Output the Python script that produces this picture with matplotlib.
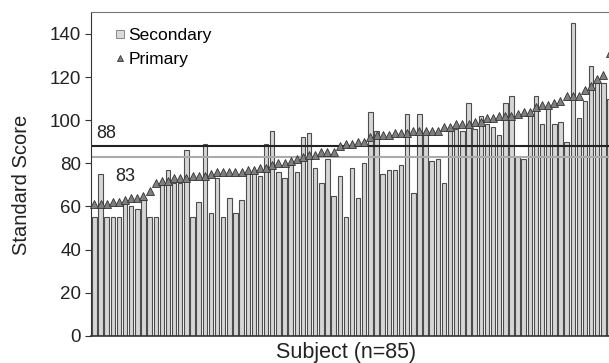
import matplotlib
matplotlib.use("Agg")
import matplotlib.pyplot as plt
from matplotlib.lines import Line2D
import numpy as np

plt.rcParams['font.family'] = ['Liberation Sans', 'DejaVu Sans']

# scores per subject, sorted by primary score
primary = [61, 61, 61, 62, 62, 63, 64, 64, 65, 67,
           71, 72, 72, 73, 73, 73, 74, 74, 74, 75,
           76, 76, 76, 76, 76, 77, 77, 78, 78, 79,
           80, 80, 81, 82, 83, 84, 84, 85, 85, 85,
           88, 89, 89, 90, 90, 92, 93, 93, 93, 94,
           94, 94, 95, 95, 95, 95, 95, 97, 97, 98,
           98, 98, 99, 99, 101, 101, 102, 102, 102, 103,
           104, 104, 106, 107, 107, 108, 109, 111, 111, 111,
           114, 116, 119, 121, 131]
secondary = [55, 75, 55, 55, 55, 62, 60, 59, 63, 55,
             55, 70, 77, 71, 71, 86, 55, 62, 89, 57,
             73, 55, 64, 57, 63, 76, 76, 74, 89, 95,
             76, 73, 79, 76, 92, 94, 78, 71, 82, 65,
             74, 55, 78, 64, 80, 104, 95, 75, 77, 77,
             79, 103, 66, 103, 94, 81, 82, 71, 95, 96,
             95, 108, 96, 102, 98, 97, 93, 108, 111, 83,
             82, 103, 111, 98, 106, 98, 99, 90, 145, 101,
             109, 125, 117, 117, 110]
cutoffs = [88, 83]
yticks = [0, 20, 40, 60, 80, 100, 120, 140]

subjects = np.arange(len(primary))

fig = plt.figure(figsize=(6.09, 3.63), dpi=100)
ax = fig.add_axes([0.149, 0.075, 0.866, 0.891])

ax.bar(subjects, secondary, width=0.72, color='#d6d6d6', edgecolor='#4d4d4d',
       linewidth=0.8, zorder=1)
ax.axhline(cutoffs[0], color='#222222', lw=1.5, zorder=2)
ax.axhline(cutoffs[1], color='#aaaaaa', lw=1.5, zorder=2)
ax.plot(subjects, primary, ls='none', marker='^', ms=5.8, mfc='#7f7f7f',
        mec='#333333', mew=0.6, zorder=3, clip_on=False)

ax.text(1.9, 94, str(cutoffs[0]), fontsize=13, ha='center', va='center', color='#222222')
ax.text(5.1, 74, str(cutoffs[1]), fontsize=13, ha='center', va='center', color='#222222')

ax.set_xlim(-0.6, 85.4)
ax.set_ylim(0, 150)
ax.set_yticks(yticks)
ax.set_xticks([])
ax.tick_params(axis='y', labelsize=13.5, length=4, pad=3, color='#333333', labelcolor='#222222')
for s in ['left', 'bottom', 'top']:
    ax.spines[s].set_color('#333333')
ax.spines['top'].set_color('#777777')
ax.spines['bottom'].set_linewidth(1.2)

ax.set_ylabel('Standard Score', fontsize=14.5, color='#222222')
ax.yaxis.set_label_coords(-0.132, 0.466)
ax.yaxis.label.set_va('center')
ax.set_xlabel('Subject (n=85)', fontsize=15.5, color='#222222')
ax.xaxis.set_label_coords(0.484, -0.018)
ax.xaxis.label.set_va('top')

handles = [Line2D([], [], ls='none', marker='s', ms=6, mfc='#d9d9d9', mec='#777777', mew=0.6),
           Line2D([], [], ls='none', marker='^', ms=4.5, mfc='#7f7f7f', mec='#333333', mew=0.6)]
ax.legend(handles, ['Secondary', 'Primary'], loc='upper left', bbox_to_anchor=(0.025, 0.985),
          frameon=False, fontsize=12.5, handlelength=0.6, handletextpad=0.2,
          labelspacing=0.55, borderaxespad=0.2)

fig.savefig('out.png', dpi=100)
